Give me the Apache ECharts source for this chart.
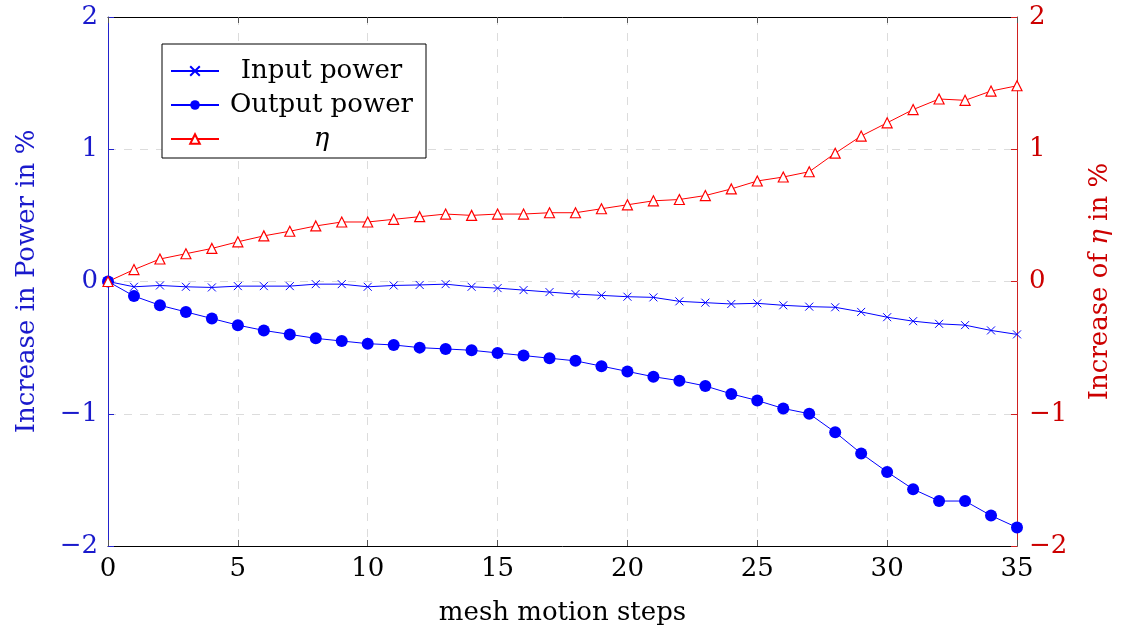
<!DOCTYPE html>
<html>
<head>
<meta charset="utf-8">
<script src="https://cdn.jsdelivr.net/npm/echarts@6/dist/echarts.min.js"></script>
<style>
  html, body { margin: 0; padding: 0; background: #fff; }
  #container { width: 1121px; height: 630px; }
</style>
</head>
<body>
<div id="container"></div>
<script>
// mesh motion steps 0..35
let steps = [];
for (let i = 0; i <= 35; i++) steps.push(i);

let inputPower = [0, -0.04, -0.03, -0.04, -0.045, -0.035, -0.035, -0.035, -0.02, -0.02,
    -0.04, -0.03, -0.026, -0.02, -0.04, -0.05, -0.065, -0.08, -0.095, -0.105,
    -0.115, -0.12, -0.15, -0.16, -0.17, -0.165, -0.18, -0.19, -0.195, -0.23,
    -0.27, -0.30, -0.32, -0.33, -0.37, -0.40];

let outputPower = [0, -0.11, -0.18, -0.23, -0.28, -0.33, -0.37, -0.40, -0.43, -0.45,
    -0.47, -0.48, -0.50, -0.51, -0.52, -0.54, -0.56, -0.58, -0.60, -0.64,
    -0.68, -0.72, -0.75, -0.79, -0.85, -0.90, -0.96, -1.00, -1.14, -1.30,
    -1.44, -1.57, -1.66, -1.66, -1.77, -1.86];

let eta = [0, 0.09, 0.17, 0.21, 0.25, 0.30, 0.345, 0.38, 0.42, 0.45,
    0.45, 0.47, 0.49, 0.51, 0.50, 0.51, 0.51, 0.52, 0.52, 0.55,
    0.58, 0.61, 0.62, 0.65, 0.70, 0.76, 0.79, 0.83, 0.97, 1.10,
    1.20, 1.30, 1.38, 1.37, 1.44, 1.48];

let seriesNames = ['Input power', 'Output power', 'η'];

const FONT = 'DejaVu Serif';
const FS = 26;
const BLUE_TXT = '#1a1acc';
const RED_TXT = '#cc0000';
const minus = (v) => String(v).replace('-', '\u2212');
const pairs = (arr) => arr.map((v, i) => [steps[i], v]);

let chart = echarts.init(document.getElementById('container'));

chart.setOption({
    animation: false,
    textStyle: { fontFamily: FONT },
    grid: { left: 108, right: 104, top: 17, bottom: 84, outerBoundsMode: 'none', containLabel: false },
    legend: {
        orient: 'vertical',
        left: 162,
        top: 44,
        data: seriesNames,
        backgroundColor: '#fff',
        borderColor: '#000',
        borderWidth: 1,
        borderRadius: 0,
        padding: [14, 7, 6, 8],
        itemWidth: 48,
        itemHeight: 12,
        itemGap: 8,
        textStyle: {
            fontFamily: FONT,
            fontSize: FS,
            color: '#000',
            rich: {
                t: { fontFamily: FONT, fontSize: FS, color: '#000', width: 195, align: 'center', lineHeight: 30 },
                i: { fontFamily: FONT, fontStyle: 'italic', fontSize: FS, color: '#000', width: 195, align: 'center', lineHeight: 30 }
            }
        },
        formatter: (name) => name === 'η' ? '{i|η}' : '{t|' + name + '}',
        selectedMode: false
    },
    xAxis: [{
        type: 'value',
        min: 0, max: 35, interval: 5,
        name: 'mesh motion steps',
        nameLocation: 'middle',
        nameGap: 54,
        nameTextStyle: { fontFamily: FONT, fontSize: FS, color: '#000' },
        axisLine: { onZero: false, lineStyle: { color: '#000', width: 1 } },
        axisTick: { inside: true, length: 6, lineStyle: { color: '#555' } },
        axisLabel: { fontFamily: FONT, fontSize: FS, color: '#000', margin: 10 },
        splitLine: { show: true, lineStyle: { type: [8, 8], color: '#dcdcdc', width: 1 } }
    }, {
        type: 'value',
        position: 'top',
        min: 0, max: 35, interval: 5,
        axisLine: { onZero: false, lineStyle: { color: '#000', width: 1 } },
        axisTick: { inside: true, length: 6, lineStyle: { color: '#555' } },
        axisLabel: { show: false },
        splitLine: { show: false }
    }],
    yAxis: [{
        type: 'value',
        min: -2, max: 2, interval: 1,
        name: 'Increase in Power in %',
        nameLocation: 'middle',
        nameRotate: 90,
        nameGap: 68,
        nameTextStyle: { fontFamily: FONT, fontSize: FS, color: BLUE_TXT },
        axisLine: { onZero: false, lineStyle: { color: '#2222cc', width: 1 } },
        axisTick: { show: true, inside: true, length: 6, lineStyle: { color: '#2222cc' } },
        axisLabel: { fontFamily: FONT, fontSize: FS, color: BLUE_TXT, margin: 10, formatter: minus },
        splitLine: { show: true, lineStyle: { type: [8, 8], color: '#dcdcdc', width: 1 } }
    }, {
        type: 'value',
        position: 'right',
        min: -2, max: 2, interval: 1,
        name: 'Increase of {i|η} in %',
        nameLocation: 'middle',
        nameRotate: 90,
        nameGap: 70,
        nameTextStyle: {
            fontFamily: FONT, fontSize: FS, color: RED_TXT,
            rich: { i: { fontFamily: FONT, fontStyle: 'italic', fontSize: FS, color: RED_TXT } }
        },
        axisLine: { onZero: false, lineStyle: { color: '#d02020', width: 1 } },
        axisTick: { show: true, inside: true, length: 6, lineStyle: { color: '#d02020' } },
        axisLabel: { fontFamily: FONT, fontSize: FS, color: RED_TXT, margin: 12, formatter: minus },
        splitLine: { show: false }
    }],
    series: [{
        name: seriesNames[0],
        type: 'line',
        yAxisIndex: 0,
        data: pairs(inputPower),
        symbol: 'path://M0,0L10,10M10,0L0,10',
        symbolSize: 8,
        showAllSymbol: true,
        lineStyle: { color: '#0000ff', width: 1 },
        itemStyle: { color: 'none', borderColor: '#0000ff', borderWidth: 1 }
    }, {
        name: seriesNames[1],
        type: 'line',
        yAxisIndex: 0,
        data: pairs(outputPower),
        symbol: 'circle',
        symbolSize: 12,
        showAllSymbol: true,
        lineStyle: { color: '#0000ff', width: 1 },
        itemStyle: { color: '#0000ff', borderWidth: 0 }
    }, {
        name: seriesNames[2],
        type: 'line',
        yAxisIndex: 1,
        data: pairs(eta),
        symbol: 'triangle',
        symbolSize: 10,
        showAllSymbol: true,
        lineStyle: { color: '#ff0000', width: 1 },
        itemStyle: { color: '#fff', borderColor: '#ff0000', borderWidth: 1.2 }
    }]
});
</script>
</body>
</html>
